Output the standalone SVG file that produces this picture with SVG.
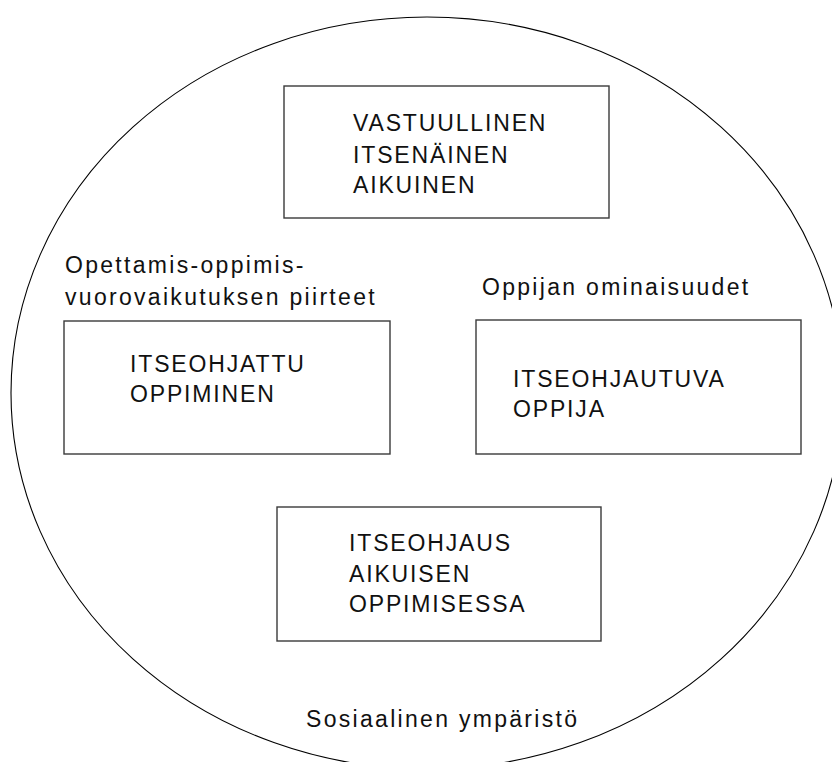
<svg xmlns="http://www.w3.org/2000/svg" width="832" height="762" viewBox="0 0 832 762">
  <style>
    .box { fill: #ffffff; stroke: #3a3a3a; stroke-width: 1.4; }
    .env { fill: none; stroke: #000000; stroke-width: 1.1; }
    .t { font-family: "Liberation Sans", Arial, sans-serif; font-size: 23px; fill: #111111; }
    .caps { letter-spacing: 1.85px; }
    .lbl { letter-spacing: 2.3px; }
  </style>
  <rect x="0" y="0" width="832" height="762" fill="#ffffff"/>

  <!-- social environment around everything -->
  <g id="environment">
    <ellipse class="env" cx="427" cy="393" rx="416" ry="376"/>
    <text class="t lbl" x="306" y="727">Sosiaalinen ympäristö</text>
  </g>

  <g id="node-aikuinen">
    <rect class="box" x="284" y="86" width="325" height="132"/>
    <text class="t caps" x="353" y="131">VASTUULLINEN</text>
    <text class="t caps" x="353" y="163">ITSENÄINEN</text>
    <text class="t caps" x="353" y="193">AIKUINEN</text>
  </g>

  <g id="node-oppiminen">
    <text class="t lbl" x="65" y="273">Opettamis-oppimis-</text>
    <text class="t lbl" x="65" y="305">vuorovaikutuksen piirteet</text>
    <rect class="box" x="64" y="321" width="326" height="133"/>
    <text class="t caps" x="130" y="372">ITSEOHJATTU</text>
    <text class="t caps" x="130" y="402">OPPIMINEN</text>
  </g>

  <g id="node-oppija">
    <text class="t lbl" x="482" y="295">Oppijan ominaisuudet</text>
    <rect class="box" x="476" y="320" width="325" height="134"/>
    <text class="t caps" x="513" y="387">ITSEOHJAUTUVA</text>
    <text class="t caps" x="513" y="417">OPPIJA</text>
  </g>

  <g id="node-itseohjaus">
    <rect class="box" x="277" y="507" width="324" height="134"/>
    <text class="t caps" x="349" y="551">ITSEOHJAUS</text>
    <text class="t caps" x="349" y="582">AIKUISEN</text>
    <text class="t caps" x="349" y="612">OPPIMISESSA</text>
  </g>

  <g id="connectors"></g>
</svg>
